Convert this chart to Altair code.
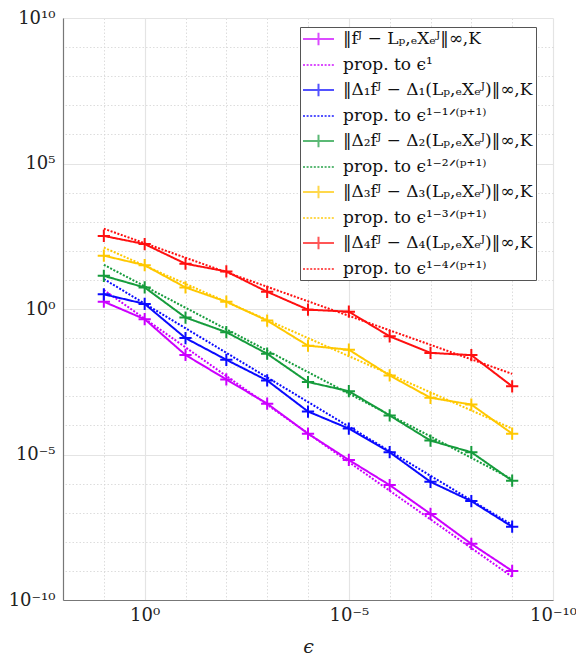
import altair as alt
import pandas as pd

# ---------------- data ----------------
eps = [1e1, 1e0, 1e-1, 1e-2, 1e-3, 1e-4, 1e-5, 1e-6, 1e-7, 1e-8, 1e-9]

err_0 = [1.78, 0.447, 0.0263, 0.0038, 5.6e-4, 5.2e-5, 6.5e-6, 8.9e-7, 9.1e-8, 8.5e-9, 1.0e-9]
err_1 = [3.2, 1.5, 0.10, 0.018, 3.5e-3, 3.0e-4, 7.8e-5, 1.2e-5, 1.15e-6, 2.5e-7, 3.3e-8]
err_2 = [13.8, 5.5, 0.51, 0.16, 0.029, 3.1e-3, 1.5e-3, 2.2e-4, 3.0e-5, 1.2e-5, 1.26e-6]
err_3 = [68.0, 32.0, 5.5, 1.78, 0.40, 0.055, 0.040, 5.2e-3, 8.9e-4, 5.2e-4, 5.2e-5]
err_4 = [324.0, 170.0, 36.0, 19.5, 3.9, 0.95, 0.81, 0.115, 0.031, 0.026, 2.2e-3]

ref_eps = [1e1, 1e-9]
ref_0 = [4.5, 6.3e-10]
ref_1 = [10.7, 3.8e-8]
ref_2 = [33.0, 1.4e-6]
ref_3 = [129.0, 7.8e-5]
ref_4 = [575.0, 5.9e-3]

err_labels = [
    "‖fᴶ − Lₚ,ₑXₑᴶ‖∞,K",
    "‖Δ₁fᴶ − Δ₁(Lₚ,ₑXₑᴶ)‖∞,K",
    "‖Δ₂fᴶ − Δ₂(Lₚ,ₑXₑᴶ)‖∞,K",
    "‖Δ₃fᴶ − Δ₃(Lₚ,ₑXₑᴶ)‖∞,K",
    "‖Δ₄fᴶ − Δ₄(Lₚ,ₑXₑᴶ)‖∞,K",
]
ref_labels = [
    "prop. to ϵ¹",
    "prop. to ϵ¹⁻¹ᐟ⁽ᵖ⁺¹⁾",
    "prop. to ϵ¹⁻²ᐟ⁽ᵖ⁺¹⁾",
    "prop. to ϵ¹⁻³ᐟ⁽ᵖ⁺¹⁾",
    "prop. to ϵ¹⁻⁴ᐟ⁽ᵖ⁺¹⁾",
]
series_colors = ["#cc00ff", "#0a0aff", "#169c3c", "#ffc800", "#ff1010"]

x_tick_exps = [0, -5, -10]
x_tick_labels = ["10⁰", "10⁻⁵", "10⁻¹⁰"]
y_tick_exps = [10, 5, 0, -5, -10]
y_tick_labels = ["10¹⁰", "10⁵", "10⁰", "10⁻⁵", "10⁻¹⁰"]
x_axis_title = "ϵ"

# ---------------- build table ----------------
errs = [err_0, err_1, err_2, err_3, err_4]
refs = [ref_0, ref_1, ref_2, ref_3, ref_4]
rows = []
labels, colors, dashes, legend_shapes = [], [], [], []
for k in range(5):
    labels += [err_labels[k], ref_labels[k]]
    colors += [series_colors[k], series_colors[k]]
    dashes += [[1, 0], [2, 1.6]]
    legend_shapes += ["M-2,0H2M0,-0.8V0.8", "M-2,0H2"]
    for e, v in zip(eps, errs[k]):
        rows.append({"eps": e, "val": v, "label": err_labels[k], "kind": "err"})
    for e, v in zip(ref_eps, refs[k]):
        rows.append({"eps": e, "val": v, "label": ref_labels[k], "kind": "ref"})
df = pd.DataFrame(rows)

# ---------------- axes ----------------
EXP = "round(log(datum.value)/LN10)"


def label_expr(exps, texts):
    s = "''"
    for e, t in reversed(list(zip(exps, texts))):
        s = f"({EXP} == {e} ? '{t}' : {s})"
    return s


MAJOR = f"abs({EXP}) % 5 == 0"
grid_dash = {"condition": {"test": MAJOR, "value": [1, 0]}, "value": [1.5, 2]}
grid_color = {"condition": {"test": MAJOR, "value": "#e4e4e4"}, "value": "#d4d4d4"}
grid_width = {"condition": {"test": MAJOR, "value": 1.2}, "value": 0.8}

FONT = "DejaVu Serif"

x_axis = alt.Axis(
    values=[10.0 ** k for k in range(-10, 3)],
    labelExpr=label_expr(x_tick_exps, x_tick_labels),
    grid=True, gridDash=grid_dash, gridColor=grid_color, gridWidth=grid_width,
    ticks=False, domainColor="#777777", domainWidth=1.2,
    labelFont=FONT, labelFontSize=18, labelColor="#222222", labelPadding=6,
    labelOverlap=False, labelFlush=False,
    titleFont=FONT, titleFontSize=19, titleFontWeight="normal", titleFontStyle="italic",
    titleColor="#222222", titlePadding=13,
)
y_axis = alt.Axis(
    values=[10.0 ** k for k in range(-10, 11)],
    labelExpr=label_expr(y_tick_exps, y_tick_labels),
    grid=True, gridDash=grid_dash, gridColor=grid_color, gridWidth=grid_width,
    ticks=False, domainColor="#777777", domainWidth=1.2,
    labelFont=FONT, labelFontSize=18, labelColor="#222222", labelPadding=8,
    labelOverlap=False, labelFlush=False,
)

x_scale = alt.Scale(type="log", domain=[1e-10, 1e2], reverse=True)
y_scale = alt.Scale(type="log", domain=[1e-10, 1e10])
color_scale = alt.Scale(domain=labels, range=colors)
dash_scale = alt.Scale(domain=labels, range=dashes)
shape_scale = alt.Scale(domain=labels, range=legend_shapes)

X = alt.X("eps:Q", scale=x_scale, axis=x_axis, title=x_axis_title)
Y = alt.Y("val:Q", scale=y_scale, axis=y_axis, title=None)

leg = dict(title=None)

base = alt.Chart(df)

lines = base.mark_line(strokeWidth=2).encode(
    x=X, y=Y,
    color=alt.Color("label:N", scale=color_scale, legend=alt.Legend(**leg)),
    strokeDash=alt.StrokeDash("label:N", scale=dash_scale, legend=alt.Legend(**leg)),
)

markers = base.transform_filter("datum.kind == 'err'").mark_point(
    shape="M-1,0H1M0,-1V1", size=150, strokeWidth=2, filled=False, opacity=1
).encode(
    x=X, y=Y,
    color=alt.Color("label:N", scale=color_scale, legend=None),
)

legend_shape_layer = base.transform_filter("false").mark_point(filled=False, strokeWidth=2).encode(
    x=X, y=Y,
    color=alt.Color("label:N", scale=color_scale, legend=None),
    shape=alt.Shape("label:N", scale=shape_scale, legend=alt.Legend(**leg)),
)

chart = (
    alt.layer(lines, markers, legend_shape_layer)
    .properties(
        width=490, height=582,
        autosize=alt.AutoSizeParams(type="none"),
        padding={"left": 63, "top": 18, "right": 23, "bottom": 55},
        background="white",
    )
    .configure_view(stroke=None)
    .configure_legend(
        orient="none", legendX=237, legendY=9,
        padding=3, fillColor="white", strokeColor="#555555", strokeWidth=1,
        labelFont=FONT, labelFontSize=17, labelColor="#111111", labelLimit=400,
        symbolSize=240, symbolStrokeWidth=2, symbolOffset=6.5, labelOffset=15.5,
        rowPadding=6.0, symbolFillColor="transparent",
    )
)

chart.save("out.html", embed_options={"renderer": "svg", "actions": False})
